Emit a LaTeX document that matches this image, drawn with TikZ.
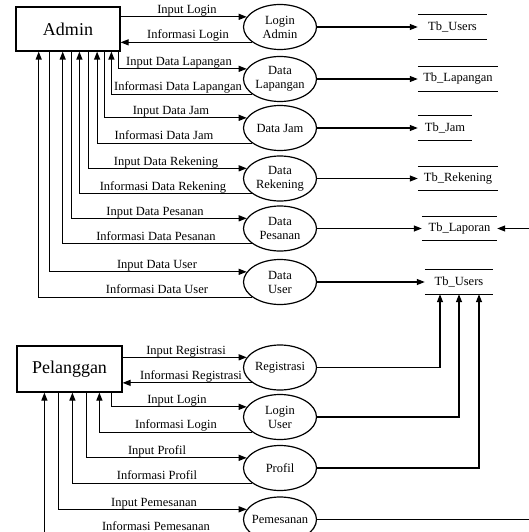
\documentclass[tikz,border=0pt]{standalone}
\usepackage{fontspec}
\setmainfont{Liberation Serif}
\usetikzlibrary{arrows.meta,shapes.geometric}

\begin{document}
\begin{tikzpicture}[x=1pt,y=-1pt,
  entity/.style={draw, line width=1.2pt, inner sep=0pt,
    font=\fontsize{18}{20}\selectfont},
  proc/.style={ellipse, draw, line width=1.2pt, minimum width=73pt,
    minimum height=45pt, inner sep=0pt, align=center,
    font=\fontsize{12.5}{14}\selectfont},
  store/.style={minimum height=24pt, inner sep=0pt,
    font=\fontsize{12.5}{14}\selectfont},
  storeline/.style={line width=1.2pt},
  flow/.style={draw, line width=1.2pt, -{Triangle[length=8pt,width=6pt]}},
  lbl/.style={anchor=base, inner sep=0pt, font=\fontsize{12.5}{14}\selectfont},
]
\fill[white] (0,0) rectangle (529,532);
\useasboundingbox (0,0) rectangle (529,532);

% external entities
\node[entity, minimum width=104pt, minimum height=44pt] (admin) at (68,29) {Admin};
\node[entity, minimum width=105pt, minimum height=46pt] (pel) at (69.5,369) {Pelanggan};

% processes
\node[proc] (p1)  at (280,27)    {Login\\Admin};
\node[proc] (p2)  at (280,79)    {Data\\Lapangan};
\node[proc] (p3)  at (280,128)   {Data Jam};
\node[proc] (p4)  at (280,178.5) {Data\\Rekening};
\node[proc] (p5)  at (280,228.5) {Data\\Pesanan};
\node[proc] (p6)  at (280,282)   {Data\\User};
\node[proc] (p7)  at (280,367.5) {Registrasi};
\node[proc] (p8)  at (280,417)   {Login\\User};
\node[proc] (p9)  at (280,468)   {Profil};
\node[proc] (p10) at (280,519.5) {\makebox[0pt]{Pemesanan}};

% data stores
\node[store, minimum width=69pt] (s1) at (452.5,27)  {Tb\_Users};
\node[store, minimum width=80pt] (s2) at (458,79)    {Tb\_Lapangan};
\node[store, minimum width=54pt] (s3) at (445,128)   {Tb\_Jam};
\node[store, minimum width=80pt] (s4) at (458,178.5) {Tb\_Rekening};
\node[store, minimum width=75pt] (s5) at (459.5,228.5) {Tb\_Laporan};
\node[store, minimum width=68pt] (s6) at (459,282)   {Tb\_Users};
\foreach \s in {s1,s2,s3,s4,s5,s6}
  \draw[storeline] (\s.north west) -- (\s.north east)
                   (\s.south west) -- (\s.south east);

% Admin flows
\draw[flow] (admin.east |- p1.163) -- (p1.163);
\draw[flow] (p1.209) -- (admin.east |- p1.209);
\draw[flow] ([xshift=103pt]admin.south west) |- (p2.163);
\draw[flow] (p2.209) -| ([xshift=96pt]admin.south west);
\draw[flow] ([xshift=89pt]admin.south west) |- (p3.163);
\draw[flow] (p3.209) -| ([xshift=81.7pt]admin.south west);
\draw[flow] ([xshift=73.3pt]admin.south west) |- (p4.163);
\draw[flow] (p4.209) -| ([xshift=64pt]admin.south west);
\draw[flow] ([xshift=55.7pt]admin.south west) |- (p5.163);
\draw[flow] (p5.209) -| ([xshift=47.3pt]admin.south west);
\draw[flow] ([xshift=34pt]admin.south west) |- (p6.163);
\draw[flow] (p6.209) -| ([xshift=23.3pt]admin.south west);

% Pelanggan flows
\draw[flow] (pel.east |- p7.163) -- (p7.163);
\draw[flow] (p7.209) -- (pel.east |- p7.209);
\draw[flow] ([xshift=95pt]pel.south west) |- (p8.163);
\draw[flow] (p8.209) -| ([xshift=83pt]pel.south west);
\draw[flow] ([xshift=70pt]pel.south west) |- (p9.163);
\draw[flow] (p9.209) -| ([xshift=56pt]pel.south west);
\draw[flow] ([xshift=42pt]pel.south west) |- (p10.163);
\draw[flow] (p10.209) -| ([xshift=28pt]pel.south west);

% processes to data stores
\draw[flow] (p1) -- (s1);
\draw[flow] (p2) -- (s2);
\draw[flow] (p3) -- (s3);
\draw[flow] (p4) -- (s4);
\draw[flow] (p5) -- (s5);
\draw[flow] (p6) -- (s6);
\draw[flow] (p7) -| ([xshift=-19pt]s6.south);
\draw[flow] (p8) -| (s6.south);
\draw[flow] (p9) -| ([xshift=20pt]s6.south);
\coordinate (farright) at (545,228.5);
\draw[flow] (p10) -| (farright) -- (s5);

% flow labels
\node[lbl] (l1)  at (187,13.5)  {Input Login};
\node[lbl] (l2)  at (188,38.5)  {Informasi Login};
\node[lbl] (l3)  at (179,65.5)  {Input Data Lapangan};
\node[lbl] (l4)  at (178,90.5)  {Informasi Data Lapangan};
\node[lbl] (l5)  at (171,114.5) {Input Data Jam};
\node[lbl] (l6)  at (164,139.5) {Informasi Data Jam};
\node[lbl] (l7)  at (166,165)   {Input Data Rekening};
\node[lbl] (l8)  at (163,190)   {Informasi Data Rekening};
\node[lbl] (l9)  at (155,215)   {Input Data Pesanan};
\node[lbl] (l10) at (156,240)   {Informasi Data Pesanan};
\node[lbl] (l11) at (157,268.5) {Input Data User};
\node[lbl] (l12) at (157,293.5) {Informasi Data User};
\node[lbl] (l13) at (186,354)   {Input Registrasi};
\node[lbl] (l14) at (191,379)   {Informasi Registrasi};
\node[lbl] (l15) at (177,403.5) {Input Login};
\node[lbl] (l16) at (176,428.5) {Informasi Login};
\node[lbl] (l17) at (157,454.5) {Input Profil};
\node[lbl] (l18) at (157,479.5) {Informasi Profil};
\node[lbl] (l19) at (154,506)   {Input Pemesanan};
\node[lbl] (l20) at (156,530.5) {Informasi Pemesanan};
\end{tikzpicture}
\end{document}
